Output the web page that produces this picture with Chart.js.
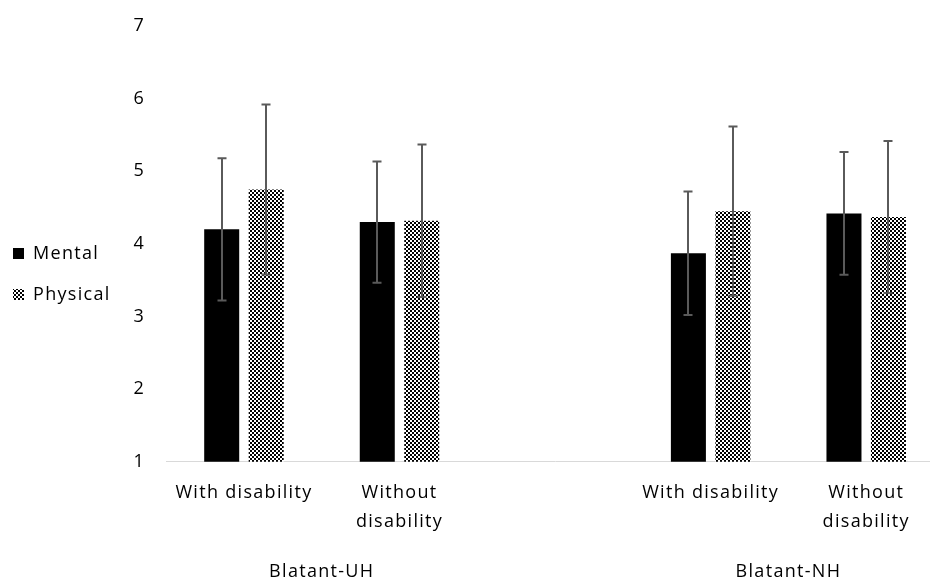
<!DOCTYPE html>
<html>
<head>
<meta charset="utf-8">
<script src="https://cdn.jsdelivr.net/npm/chart.js@4.4.1/dist/chart.umd.min.js"></script>
<style>
  html, body { margin: 0; padding: 0; background: #fff; overflow: hidden; }
  #wrap { width: 944px; height: 585px; position: relative; }
</style>
</head>
<body>
<div id="wrap"><canvas id="c"></canvas></div>
<script>
// ---- data ----
const categoryLabels = ['With disability', ['Without', 'disability']];
const groups = ['Blatant-UH', 'Blatant-NH'];
const seriesNames = ['Mental', 'Physical'];
const mental = [4.20, 4.30, 3.87, 4.42];
const mentalErr = [0.98, 0.835, 0.85, 0.845];
const physical = [4.75, 4.32, 4.45, 4.37];
const physicalErr = [1.17, 1.05, 1.165, 1.045];
const yMin = 1, yMax = 7, yStep = 1;

// ---- build category table (a blank slot separates the groups) ----
const labels = [], groupOf = [], slotOf = [];
groups.forEach((g, gi) => {
  if (gi > 0) { labels.push(''); groupOf.push(null); }
  categoryLabels.forEach((c) => { slotOf.push(labels.length); labels.push(c); groupOf.push(g); });
});
function spread(vals) {
  const out = labels.map(() => null);
  vals.forEach((v, i) => { out[slotOf[i]] = v; });
  return out;
}
const groupCenters = groups.map(g => {
  const idx = groupOf.map((x, i) => x === g ? i : -1).filter(i => i >= 0);
  return idx.reduce((a, b) => a + b, 0) / idx.length;
});

// ---- checkerboard pattern ----
function checker() {
  const p = document.createElement('canvas');
  p.width = 4; p.height = 4;
  const g = p.getContext('2d');
  g.fillStyle = '#ffffff'; g.fillRect(0, 0, 4, 4);
  g.fillStyle = '#000000'; g.fillRect(0, 0, 2, 2); g.fillRect(2, 2, 2, 2);
  return g.createPattern(p, 'repeat');
}
const pattern = checker();

const FONT = { family: '"Open Sans", "Liberation Sans", sans-serif', size: 18 };
const SPACING = '1.3px';

const spacingPlugin = {
  id: 'spacing',
  beforeUpdate(chart) { chart.ctx.letterSpacing = SPACING; },
  beforeLayout(chart) { chart.ctx.letterSpacing = SPACING; },
  beforeDraw(chart) { chart.ctx.letterSpacing = SPACING; }
};

const errorBars = {
  id: 'errorBars',
  afterDatasetsDraw(chart) {
    const ctx = chart.ctx;
    const ys = chart.scales.y;
    const errs = [spread(mentalErr), spread(physicalErr)];
    ctx.save();
    ctx.strokeStyle = '#5a5a5a';
    ctx.lineWidth = 2;
    chart.data.datasets.forEach((ds, di) => {
      const meta = chart.getDatasetMeta(di);
      meta.data.forEach((el, i) => {
        const v = ds.data[i];
        if (v == null) return;
        const e = errs[di][i];
        const x = Math.round(el.x);
        const yt = ys.getPixelForValue(v + e);
        const yb = ys.getPixelForValue(v - e);
        ctx.beginPath();
        ctx.moveTo(x, yt); ctx.lineTo(x, yb);
        ctx.moveTo(x - 4.5, yt); ctx.lineTo(x + 4.5, yt);
        ctx.moveTo(x - 4.5, yb); ctx.lineTo(x + 4.5, yb);
        ctx.stroke();
      });
    });
    ctx.restore();
  }
};

// horizontal axes: keep only one tick padding in the axis height
function trimPadding(scale) { scale.height = scale.height - scale.options.ticks.padding; }

new Chart(document.getElementById('c'), {
  type: 'bar',
  data: {
    labels: labels,
    datasets: [
      { label: seriesNames[0], data: spread(mental), backgroundColor: '#000000', borderWidth: 0,
        categoryPercentage: 0.572, barPercentage: 0.787 },
      { label: seriesNames[1], data: spread(physical), backgroundColor: pattern, borderWidth: 0,
        categoryPercentage: 0.572, barPercentage: 0.787 }
    ]
  },
  options: {
    responsive: true,
    maintainAspectRatio: false,
    animation: false,
    events: [],
    layout: { padding: { top: 26, right: 0, bottom: 2, left: -10 } },
    plugins: {
      tooltip: { enabled: false },
      legend: {
        position: 'left',
        align: 'center',
        fullSize: false,
        title: { display: true, text: '', font: { size: 12, lineHeight: 1.2 }, padding: { top: 22.8, bottom: 22.8 } },
        labels: { boxWidth: 11, boxHeight: 11, padding: 23, color: '#000', font: FONT }
      }
    },
    scales: {
      x: {
        type: 'category',
        offset: true,
        grid: { display: false, drawTicks: false },
        border: { display: true, color: '#d9d9d9', width: 1 },
        afterFit: trimPadding,
        ticks: { color: '#000', font: { ...FONT, lineHeight: 1.6 }, padding: 17, autoSkip: false, maxRotation: 0, minRotation: 0 }
      },
      x2: {
        type: 'linear',
        position: 'bottom',
        offset: false,
        bounds: 'data',
        min: -0.5,
        max: labels.length - 0.5,
        grid: { display: false, drawTicks: false, offset: false },
        border: { display: false },
        afterFit: trimPadding,
        afterBuildTicks(scale) { scale.ticks = groupCenters.map(v => ({ value: v })); },
        ticks: {
          color: '#000', font: { ...FONT, lineHeight: 1.2 }, padding: 25, autoSkip: false, maxRotation: 0, minRotation: 0,
          callback: (v, i) => groups[i]
        }
      },
      y: {
        min: yMin, max: yMax,
        grid: { display: false, drawTicks: false },
        border: { display: false },
        afterFit(scale) {
          scale.width = scale.width - 8;
          scale.paddingTop = 0;
          scale.paddingBottom = 0;
        },
        ticks: { stepSize: yStep, color: '#000', font: { ...FONT, lineHeight: 1.2 }, padding: 21 }
      }
    }
  },
  plugins: [spacingPlugin, errorBars]
});
</script>
</body>
</html>
